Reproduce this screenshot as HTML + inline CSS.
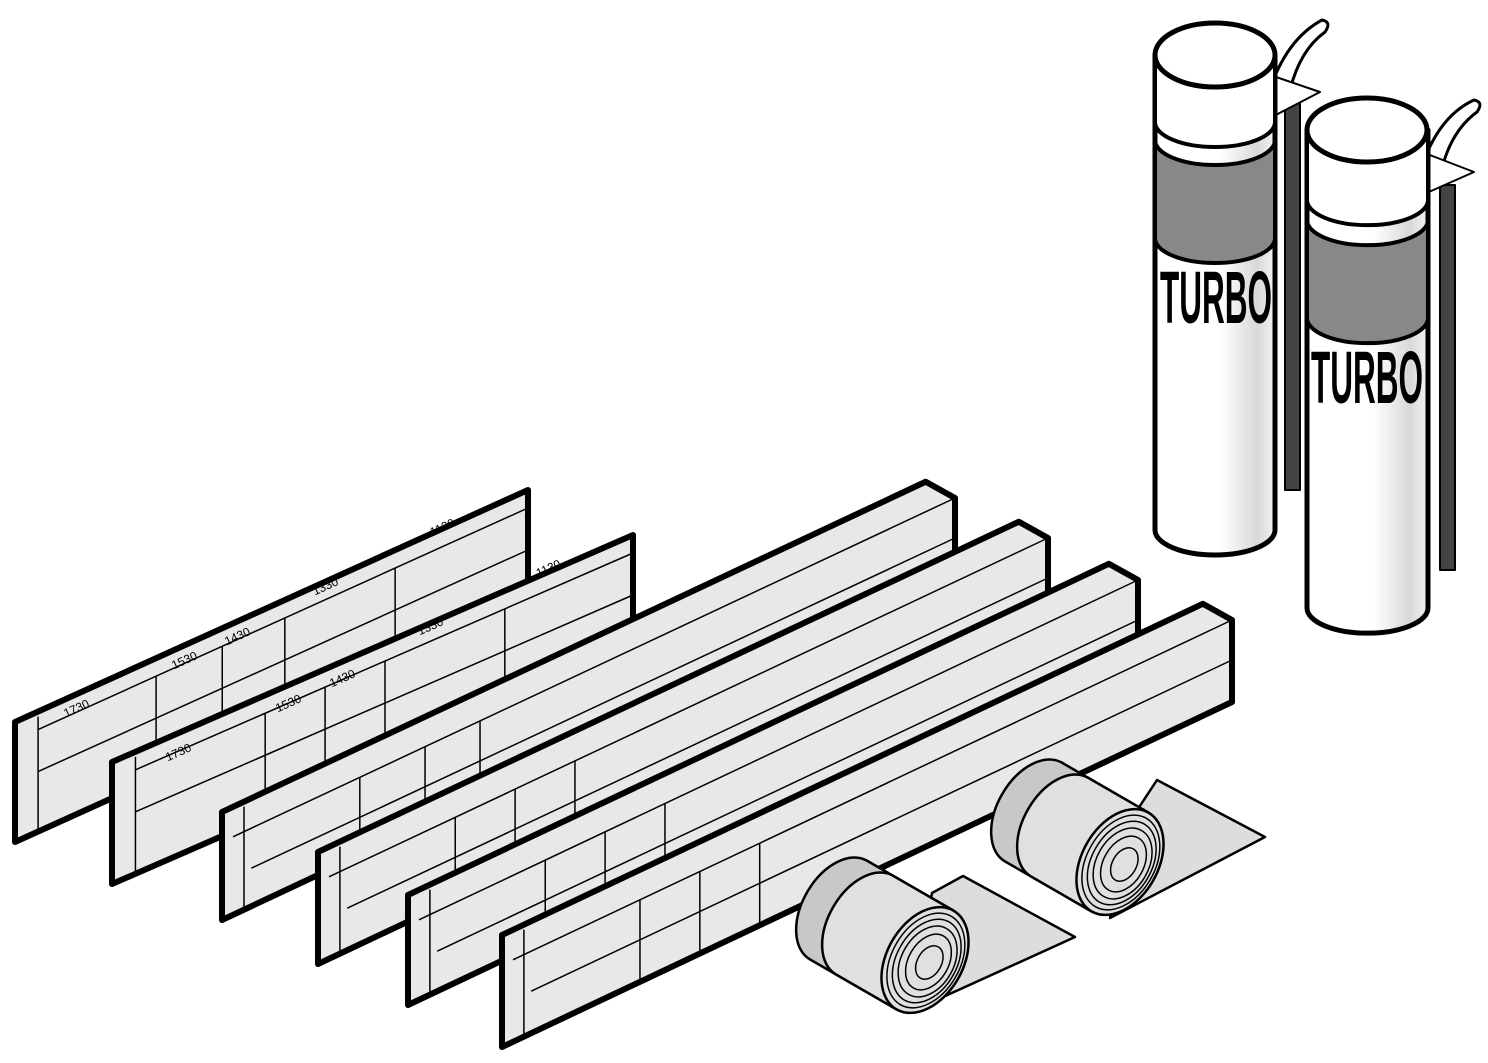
<!DOCTYPE html>
<html><head><meta charset="utf-8"><style>html,body{margin:0;padding:0;background:#fff}svg{display:block}</style></head>
<body>
<svg width="1488" height="1063" viewBox="0 0 1488 1063" xmlns="http://www.w3.org/2000/svg">
<defs>
<linearGradient id="cg" x1="0" x2="1" y1="0" y2="0">
<stop offset="0" stop-color="#fff"/><stop offset="0.55" stop-color="#fff"/><stop offset="0.85" stop-color="#d8d8d8"/><stop offset="1" stop-color="#f4f4f4"/>
</linearGradient>
</defs>
<g stroke="#000" stroke-linejoin="round" fill="none">
<!-- CAN 1 -->
<rect x="1285" y="100" width="15" height="390" fill="#444" stroke-width="2"/>
<path d="M1268 95 Q1285 40 1322 20 Q1332 22 1325 32 Q1300 50 1290 90 Z" fill="#fff" stroke-width="3"/>
<polygon points="1270,75 1320,92 1270,118" fill="#fff" stroke-width="2"/>
<path d="M1155 55 L1155 530 A60 25 0 0 0 1275 530 L1275 55 Z" fill="url(#cg)" stroke-width="5"/>
<path d="M1155 140 A60 25 0 0 0 1275 140 L1275 238 A60 25 0 0 1 1155 238 Z" fill="#888" stroke-width="4"/>
<path d="M1155 55 L1155 122 A60 25 0 0 0 1275 122 L1275 55 Z" fill="#fff" stroke-width="4"/>
<ellipse cx="1215" cy="55" rx="60" ry="32" fill="#fff" stroke-width="5"/>
<text x="1160" y="323" font-family="Liberation Sans, sans-serif" font-weight="bold" font-size="74" fill="#000" stroke="none" textLength="112" lengthAdjust="spacingAndGlyphs">TURBO</text>
<!-- CAN 2 -->
<rect x="1440" y="185" width="15" height="385" fill="#444" stroke-width="2"/>
<path d="M1420 172 Q1437 117 1474 100 Q1484 102 1477 112 Q1452 130 1442 168 Z" fill="#fff" stroke-width="3"/>
<polygon points="1422,152 1474,172 1422,195" fill="#fff" stroke-width="2"/>
<path d="M1307 130 L1307 608 A60 25 0 0 0 1428 608 L1428 130 Z" fill="url(#cg)" stroke-width="5"/>
<path d="M1307 220 A60 25 0 0 0 1428 220 L1428 318 A60 25 0 0 1 1307 318 Z" fill="#888" stroke-width="4"/>
<path d="M1307 130 L1307 200 A60 25 0 0 0 1428 200 L1428 130 Z" fill="#fff" stroke-width="4"/>
<ellipse cx="1367" cy="130" rx="60" ry="32" fill="#fff" stroke-width="5"/>
<text x="1311" y="403" font-family="Liberation Sans, sans-serif" font-weight="bold" font-size="74" fill="#000" stroke="none" textLength="112" lengthAdjust="spacingAndGlyphs">TURBO</text>
</g>

<g stroke="#000" fill="#e8e8e8" stroke-linejoin="round">
<!-- P1 -->
<g transform="matrix(0.513,-0.232,0,1,15,722)">
<polygon points="0,0 1000,0 1000,120 0,120" stroke-width="6" vector-effect="non-scaling-stroke"/>
<g fill="none" stroke-width="1.5">
<line x1="45" y1="18" x2="1000" y2="18" vector-effect="non-scaling-stroke"/>
<line x1="45" y1="60" x2="1000" y2="60" vector-effect="non-scaling-stroke"/>
<line x1="45" y1="5" x2="45" y2="120" vector-effect="non-scaling-stroke"/>
<line x1="275" y1="18" x2="275" y2="120" vector-effect="non-scaling-stroke"/>
<line x1="404" y1="18" x2="404" y2="120" vector-effect="non-scaling-stroke"/>
<line x1="526" y1="18" x2="526" y2="120" vector-effect="non-scaling-stroke"/>
<line x1="741" y1="18" x2="741" y2="120" vector-effect="non-scaling-stroke"/>
</g></g>
<!-- P2 -->
<g transform="matrix(0.521,-0.227,0,1,112,762)">
<polygon points="0,0 1000,0 1000,122 0,122" stroke-width="6" vector-effect="non-scaling-stroke"/>
<g fill="none" stroke-width="1.5">
<line x1="45" y1="18" x2="1000" y2="18" vector-effect="non-scaling-stroke"/>
<line x1="45" y1="60" x2="1000" y2="60" vector-effect="non-scaling-stroke"/>
<line x1="45" y1="5" x2="45" y2="122" vector-effect="non-scaling-stroke"/>
<line x1="294" y1="18" x2="294" y2="122" vector-effect="non-scaling-stroke"/>
<line x1="409" y1="18" x2="409" y2="122" vector-effect="non-scaling-stroke"/>
<line x1="524" y1="18" x2="524" y2="122" vector-effect="non-scaling-stroke"/>
<line x1="754" y1="18" x2="754" y2="122" vector-effect="non-scaling-stroke"/>
</g></g>
<!-- P3 -->
<g transform="matrix(0.733,-0.344,0,1,222,812)">
<polygon points="0,0 960,0 1000,30 1000,108 0,108" stroke-width="6" vector-effect="non-scaling-stroke"/>
<g fill="none" stroke-width="1.5">
<line x1="15" y1="30" x2="1000" y2="30" vector-effect="non-scaling-stroke"/>
<line x1="40" y1="70" x2="1000" y2="70" vector-effect="non-scaling-stroke"/>
<line x1="30" y1="5" x2="30" y2="108" vector-effect="non-scaling-stroke"/>
<line x1="188" y1="30" x2="188" y2="108" vector-effect="non-scaling-stroke"/>
<line x1="277" y1="30" x2="277" y2="108" vector-effect="non-scaling-stroke"/>
<line x1="352" y1="30" x2="352" y2="108" vector-effect="non-scaling-stroke"/>
</g></g>
<!-- P4 -->
<g transform="matrix(0.730,-0.344,0,1,318,852)">
<polygon points="0,0 960,0 1000,30 1000,112 0,112" stroke-width="6" vector-effect="non-scaling-stroke"/>
<g fill="none" stroke-width="1.5">
<line x1="15" y1="30" x2="1000" y2="30" vector-effect="non-scaling-stroke"/>
<line x1="40" y1="70" x2="1000" y2="70" vector-effect="non-scaling-stroke"/>
<line x1="30" y1="5" x2="30" y2="112" vector-effect="non-scaling-stroke"/>
<line x1="188" y1="30" x2="188" y2="112" vector-effect="non-scaling-stroke"/>
<line x1="270" y1="30" x2="270" y2="112" vector-effect="non-scaling-stroke"/>
<line x1="352" y1="30" x2="352" y2="112" vector-effect="non-scaling-stroke"/>
</g></g>
<!-- P5 -->
<g transform="matrix(0.730,-0.345,0,1,408,895)">
<polygon points="0,0 960,0 1000,30 1000,110 0,110" stroke-width="6" vector-effect="non-scaling-stroke"/>
<g fill="none" stroke-width="1.5">
<line x1="15" y1="30" x2="1000" y2="30" vector-effect="non-scaling-stroke"/>
<line x1="40" y1="70" x2="1000" y2="70" vector-effect="non-scaling-stroke"/>
<line x1="30" y1="5" x2="30" y2="110" vector-effect="non-scaling-stroke"/>
<line x1="188" y1="30" x2="188" y2="110" vector-effect="non-scaling-stroke"/>
<line x1="270" y1="30" x2="270" y2="110" vector-effect="non-scaling-stroke"/>
<line x1="352" y1="30" x2="352" y2="110" vector-effect="non-scaling-stroke"/>
</g></g>
<!-- P6 -->
<g transform="matrix(0.730,-0.345,0,1,502,935)">
<polygon points="0,0 960,0 1000,30 1000,112 0,112" stroke-width="6" vector-effect="non-scaling-stroke"/>
<g fill="none" stroke-width="1.5">
<line x1="15" y1="30" x2="1000" y2="30" vector-effect="non-scaling-stroke"/>
<line x1="40" y1="70" x2="1000" y2="70" vector-effect="non-scaling-stroke"/>
<line x1="30" y1="5" x2="30" y2="112" vector-effect="non-scaling-stroke"/>
<line x1="189" y1="30" x2="189" y2="112" vector-effect="non-scaling-stroke"/>
<line x1="271" y1="30" x2="271" y2="112" vector-effect="non-scaling-stroke"/>
<line x1="353" y1="30" x2="353" y2="112" vector-effect="non-scaling-stroke"/>
</g></g>
</g>

<!-- labels -->
<g font-family="Liberation Sans, sans-serif" font-size="12" fill="#000" text-anchor="middle">
<text transform="translate(78,712) rotate(-24.5)">1730</text>
<text transform="translate(186,664) rotate(-24.5)">1530</text>
<text transform="translate(239,640) rotate(-24.5)">1430</text>
<text transform="translate(327,590) rotate(-24.5)">1330</text>
<text transform="translate(444,531) rotate(-24.5)">1130</text>
<text transform="translate(180,756) rotate(-24)">1730</text>
<text transform="translate(290,707) rotate(-24)">1530</text>
<text transform="translate(344,682) rotate(-24)">1430</text>
<text transform="translate(432,630) rotate(-24)">1330</text>
<text transform="translate(550,572) rotate(-24)">1130</text>
</g>

<!-- ROLLS -->
<g stroke="#000" stroke-width="2.5" stroke-linejoin="round">
<polygon points="932,893 963,876 1075,937 910,1012" fill="#ddd"/>
<g transform="translate(925,960) rotate(30)">
<path d="M-100,-57 L0,-57 L0,57 L-100,57 A36 57 0 0 1 -100,-57 Z" fill="#c8c8c8"/>
<path d="M-70,-57 L0,-57 L0,57 L-70,57 A36 57 0 0 1 -70,-57 Z" fill="#e0e0e0"/>
<ellipse cx="0" cy="0" rx="38" ry="57" fill="#e0e0e0"/>
<g fill="none" stroke-width="1.5">
<ellipse cx="1" cy="0" rx="34" ry="51"/>
<ellipse cx="2" cy="0" rx="30" ry="45"/>
<ellipse cx="3" cy="0" rx="26" ry="38"/>
<ellipse cx="4" cy="0" rx="20" ry="30"/>
<ellipse cx="5" cy="0" rx="12" ry="18"/>
</g></g>
<polygon points="1132,818 1157,780 1265,837 1110,918" fill="#ddd"/>
<g transform="translate(1120,862) rotate(30)">
<path d="M-100,-57 L0,-57 L0,57 L-100,57 A36 57 0 0 1 -100,-57 Z" fill="#c8c8c8"/>
<path d="M-70,-57 L0,-57 L0,57 L-70,57 A36 57 0 0 1 -70,-57 Z" fill="#e0e0e0"/>
<ellipse cx="0" cy="0" rx="38" ry="57" fill="#e0e0e0"/>
<g fill="none" stroke-width="1.5">
<ellipse cx="1" cy="0" rx="34" ry="51"/>
<ellipse cx="2" cy="0" rx="30" ry="45"/>
<ellipse cx="3" cy="0" rx="26" ry="38"/>
<ellipse cx="4" cy="0" rx="20" ry="30"/>
<ellipse cx="5" cy="0" rx="12" ry="18"/>
</g></g>
</g>
</svg>
</body></html>
